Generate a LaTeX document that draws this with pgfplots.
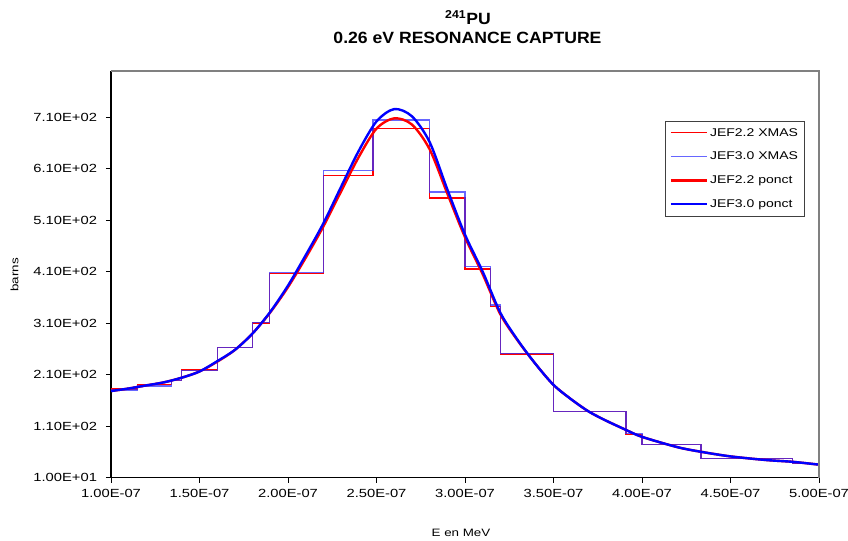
\documentclass[border=0pt]{standalone}
\usepackage{fontspec}
\setmainfont{Liberation Sans}
\newfontfamily\smallf{Liberation Sans}[FakeStretch=1.25]
\newfontfamily\titlef{Liberation Sans}[FakeStretch=1.08]
\usepackage{pgfplots}
\pgfplotsset{compat=1.18}
\definecolor{xblue}{rgb}{0.2,0.2,1}
\begin{document}
\begin{tikzpicture}
\useasboundingbox (0,0) rectangle (848bp,541bp);
\begin{axis}[
  at={(111bp,63.5bp)}, anchor=south west,
  scale only axis, width=708bp, height=406.5bp,
  xmin=0.1, xmax=0.5, ymin=10, ymax=800,
  axis x line*=bottom, axis y line*=left,
  axis line style={black, line width=1.1bp},
  tick align=outside, major tick length=5bp,
  tick style={black, line width=0.8bp},
  xtick={0.1,0.15,0.2,0.25,0.3,0.35,0.4,0.45,0.5},
  xticklabels={1.00E-07,1.50E-07,2.00E-07,2.50E-07,3.00E-07,3.50E-07,4.00E-07,4.50E-07,5.00E-07},
  ytick={10,110,210,310,410,510,610,710},
  yticklabels={1.00E+01,1.10E+02,2.10E+02,3.10E+02,4.10E+02,5.10E+02,6.10E+02,7.10E+02},
  ticklabel style={font=\smallf\fontsize{11.8bp}{13bp}\selectfont},
  xticklabel style={yshift=-3bp},
  yticklabel style={xshift=-5.5bp},
  legend style={at={(rel axis cs:0.979,0.877)}, anchor=north east, draw=black!75, fill=white,
    font=\smallf\fontsize{11.2bp}{13bp}\selectfont, inner xsep=4bp, inner ysep=5bp,
    row sep=10.5bp, cells={anchor=west}},
  legend image code/.code={\draw[#1] (0bp,0bp) -- (36bp,0bp);},
  clip=false,
]
\addplot[const plot mark left, red, line width=1.3bp] coordinates {
(0.1,182) (0.115,191) (0.134,199) (0.14,219) (0.16,263) (0.18,310) (0.1895,406)
(0.22,597) (0.248,688) (0.28,553) (0.3,415) (0.3145,343) (0.32,250) (0.35,138)
(0.391,94) (0.4,74.5) (0.4333,47) (0.485,37.6) (0.5,37.6)};
\addlegendentry{JEF2.2 XMAS}
\addplot[const plot mark left, xblue, opacity=0.75, line width=1.3bp] coordinates {
(0.1,180) (0.115,188) (0.134,199) (0.14,218) (0.16,263) (0.18,311) (0.1895,408)
(0.22,607) (0.248,705) (0.28,565) (0.3,420) (0.3145,345) (0.32,251.5) (0.35,138)
(0.391,96) (0.4,74.5) (0.4333,47) (0.485,37.6) (0.5,37.6)};
\addlegendentry{JEF3.0 XMAS}
\addplot[smooth, red, line width=2.4bp] coordinates {
(0.10,178) (0.11,183) (0.12,189) (0.13,195) (0.14,204) (0.15,216) (0.16,235)
(0.17,258) (0.18,290) (0.19,331) (0.20,380) (0.21,437) (0.22,498) (0.23,566)
(0.24,633) (0.25,688) (0.26,708) (0.27,696) (0.28,648) (0.29,562) (0.30,477)
(0.31,405) (0.32,327) (0.33,275) (0.34,230) (0.35,190) (0.36,162) (0.37,138)
(0.38,120) (0.39,104) (0.40,89) (0.42,69) (0.4333,60) (0.45,51) (0.47,44)
(0.485,40.5) (0.50,35)};
\addlegendentry{JEF2.2 ponct}
\addplot[smooth, blue, line width=2.4bp] coordinates {
(0.10,178) (0.11,183) (0.12,189) (0.13,195) (0.14,204) (0.15,216) (0.16,236)
(0.17,258) (0.18,290) (0.19,332) (0.20,383) (0.21,442) (0.22,504) (0.23,575)
(0.24,645) (0.25,702) (0.26,726) (0.27,712) (0.28,662) (0.29,570) (0.30,482)
(0.31,410) (0.32,330) (0.33,276) (0.34,230) (0.35,190) (0.36,162) (0.37,138)
(0.38,120) (0.39,104) (0.40,89) (0.42,69) (0.4333,60) (0.45,51) (0.47,44)
(0.485,40.5) (0.50,35)};
\addlegendentry{JEF3.0 ponct}
\draw[black!50, line width=1.5bp] (rel axis cs:0,1) -- (rel axis cs:1,1) -- (rel axis cs:1,0);
\end{axis}
\node[anchor=base, font=\titlef\bfseries\fontsize{16.3bp}{18bp}\selectfont] at (468bp,516bp) {\textsuperscript{241}PU};
\node[anchor=base, font=\titlef\bfseries\fontsize{16.3bp}{18bp}\selectfont] at (467.5bp,497.7bp) {0.26 eV RESONANCE CAPTURE};
\node[rotate=90, font=\smallf\fontsize{10.7bp}{12bp}\selectfont] at (14.5bp,266bp) {barns};
\node[font=\smallf\fontsize{10.7bp}{12bp}\selectfont] at (461bp,8bp) {E en MeV};
\end{tikzpicture}
\end{document}
